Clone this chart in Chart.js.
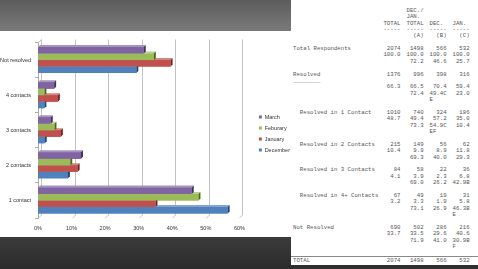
<!DOCTYPE html>
<html>
<head>
<meta charset="utf-8">
<script src="https://cdn.jsdelivr.net/npm/chart.js@4.4.0/dist/chart.umd.min.js"></script>
<style>
    html, body { margin: 0; padding: 0; }
    body { width: 478px; height: 269px; position: relative; overflow: hidden; background: #2f2f2f; }
    #topBand { position: absolute; left: 0; top: 0; width: 291px; height: 31px; background: linear-gradient(#5c5c5c, #7a7a7a); }
    #bottomBand { position: absolute; left: 0; top: 237px; width: 291px; height: 32px; background: linear-gradient(#3b3b3b, #2b2b2b); }
    #chartBox { position: absolute; left: 0; top: 31px; width: 300px; height: 206px; background: #fff; }
    #panel { position: absolute; left: 291px; top: 0; width: 187px; height: 265px; background: #fff; z-index: 2;
             font-family: 'Liberation Mono', 'DejaVu Sans Mono', monospace; font-size: 5.7px; color: #555; }
    .row { position: absolute; left: 0; width: 187px; height: 6.4px; line-height: 6.4px; white-space: pre; }
    .stub { position: absolute; left: 2px; top: 0; }
    .cell { position: absolute; top: 0; width: 24px; text-align: right; }
    #rule { position: absolute; left: 0; top: 256px; width: 187px; height: 0; border-top: 1px solid #888; }
</style>
</head>
<body>
<div id="topBand"></div>
<div id="chartBox"><canvas id="chart" width="300" height="206"></canvas></div>
<div id="bottomBand"></div>
<div id="panel"><div id="rule"></div></div>
<script>
(function () {
    'use strict';

    // chart data, rows top to bottom
    const categories = ['Not resolved', '4 contacts', '3 contacts', '2 contacts', '1 contact'];
    const seriesNames = ['March', 'Feburary', 'January', 'December'];
    const march = [31.5, 4.8, 3.8, 12.8, 45.8];
    const february = [34.5, 1.9, 4.9, 9.6, 47.8];
    const january = [39.5, 5.9, 6.8, 11.8, 35.0];
    const december = [29.3, 1.9, 2.0, 8.9, 56.5];
    const seriesColors = ['#8064A2', '#9BBB59', '#C0504D', '#4F81BD'];
    const xMax = 60;
    const xStep = 10;

    // crosstab text on the right
    const tableLines = [
        ['', '', 'DEC./', '', ''],
        ['', '', 'JAN. ', '', ''],
        ['', 'TOTAL', 'TOTAL', 'DEC. ', 'JAN. '],
        ['', '-----', '-----', '-----', '-----'],
        ['', '', '(A)', '(B)', '(C)'],
        [''],
        ['Total Respondents', '2074', '1498', '566', '532'],
        ['', '100.0', '100.0', '100.0', '100.0'],
        ['', '', '72.2', '46.6', '25.7'],
        [''],
        ['Resolved', '1376', '996', '398', '316'],
        ['________'],
        ['', '66.3', '66.5', '70.4', '59.4'],
        ['', '', '72.4', '49.4C', '23.0'],
        ['', '', '', 'E    ', ''],
        [''],
        ['  Resolved in 1 Contact', '1010', '740', '324', '186'],
        ['', '48.7', '49.4', '57.2', '35.0'],
        ['', '', '73.3', '54.9C', '10.4'],
        ['', '', '', 'EF   ', ''],
        [''],
        ['  Resolved in 2 Contacts', '215', '149', '56', '62'],
        ['', '10.4', '9.9', '8.9', '11.8'],
        ['', '', '69.3', '40.0', '29.3'],
        [''],
        ['  Resolved in 3 Contacts', '84', '58', '22', '36'],
        ['', '4.1', '3.9', '2.3', '6.8'],
        ['', '', '69.0', '26.2', '42.9B'],
        [''],
        ['  Resolved in 4+ Contacts', '67', '49', '19', '31'],
        ['', '3.2', '3.3', '1.9', '5.8'],
        ['', '', '73.1', '26.9', '46.3B'],
        ['', '', '', '', 'E    '],
        [''],
        ['Not Resolved', '690', '502', '286', '216'],
        ['', '33.7', '33.5', '29.6', '40.6'],
        ['', '', '71.9', '41.0', '30.9B'],
        ['', '', '', '', 'F    ']
    ];
    const totalLine = ['TOTAL', '2074', '1498', '566', '532'];
    const columnRight = [109.5, 132.6, 155.6, 178.6];

    const font = "'Liberation Sans', Arial, sans-serif";
    const depth = 3;
    const barDepth = 2;

    function addRow(panel, row, top) {
        const div = document.createElement('div');
        div.className = 'row';
        div.style.top = top + 'px';

        const stub = document.createElement('span');
        stub.className = 'stub';
        stub.textContent = row[0] || '';
        div.appendChild(stub);

        for (let i = 1; i < row.length; i++) {
            if (!row[i]) {
                continue;
            }
            const cell = document.createElement('span');
            cell.className = 'cell';
            cell.style.left = (columnRight[i - 1] - 24) + 'px';
            cell.textContent = row[i].length === 5 ? row[i] : row[i].padStart(5, ' ');
            div.appendChild(cell);
        }
        panel.appendChild(div);
    }

    function renderTable() {
        const panel = document.getElementById('panel');
        const step = 6.38;
        const firstTop = 49.3 - 6 * step - 3.2;
        tableLines.forEach(function (row, i) {
            addRow(panel, row, firstTop + i * step);
        });
        addRow(panel, totalLine, 258);
    }

    function shade(hex, factor) {
        const n = parseInt(hex.slice(1), 16);
        const ch = [(n >> 16) & 255, (n >> 8) & 255, n & 255].map(function (c) {
            return Math.max(0, Math.min(255, Math.round(factor > 1 ? c + (255 - c) * (factor - 1) : c * factor)));
        });
        return 'rgb(' + ch.join(',') + ')';
    }

    function polygon(ctx, pts) {
        ctx.beginPath();
        ctx.moveTo(pts[0][0], pts[0][1]);
        for (let i = 1; i < pts.length; i++) {
            ctx.lineTo(pts[i][0], pts[i][1]);
        }
        ctx.closePath();
        ctx.fill();
    }

    // back wall gridlines with floor slants, then 3d faces on the bars
    const wallPlugin = {
        id: 'wall3d',
        beforeDatasetsDraw: function (chart) {
            const ctx = chart.ctx;
            const area = chart.chartArea;
            const xs = chart.scales.x;
            ctx.save();
            ctx.strokeStyle = '#c2c2c2';
            ctx.lineWidth = 1;
            xs.ticks.forEach(function (tick) {
                const px = Math.round(xs.getPixelForValue(tick.value)) + 0.5;
                ctx.beginPath();
                ctx.moveTo(px + depth, area.top - depth);
                ctx.lineTo(px + depth, area.bottom - depth);
                ctx.lineTo(px, area.bottom);
                ctx.stroke();
            });
            ctx.beginPath();
            ctx.moveTo(area.left + 0.5, area.top);
            ctx.lineTo(area.left + 0.5 + depth, area.top - depth);
            ctx.stroke();
            ctx.restore();
        },
        afterDatasetsDraw: function (chart) {
            const ctx = chart.ctx;
            const metas = chart.getSortedVisibleDatasetMetas();
            ctx.save();
            for (let i = metas.length - 1; i >= 0; i--) {
                const meta = metas[i];
                const color = chart.data.datasets[meta.index].backgroundColor;
                meta.data.forEach(function (bar) {
                    const p = bar.getProps(['x', 'y', 'base', 'height'], true);
                    const top = p.y - p.height / 2;
                    const bottom = p.y + p.height / 2;
                    const d = barDepth;
                    ctx.fillStyle = shade(color, 1.3);
                    polygon(ctx, [[p.base, top], [p.base + d, top - d], [p.x + d, top - d], [p.x, top]]);
                    ctx.fillStyle = shade(color, 0.5);
                    polygon(ctx, [[p.x, top], [p.x + d, top - d], [p.x + d, bottom - d], [p.x, bottom]]);
                    ctx.fillStyle = color;
                    ctx.fillRect(p.base, top, p.x - p.base, p.height);
                });
            }
            ctx.restore();
        }
    };

    function buildChart() {
        const values = [march, february, january, december];
        const datasets = seriesNames.map(function (name, i) {
            return {
                label: name,
                data: values[i],
                backgroundColor: seriesColors[i],
                borderWidth: 0,
                categoryPercentage: 0.74,
                barPercentage: 1
            };
        });

        new Chart(document.getElementById('chart'), {
            type: 'bar',
            data: { labels: categories, datasets: datasets },
            options: {
                indexAxis: 'y',
                responsive: false,
                animation: false,
                devicePixelRatio: 1,
                layout: { padding: { top: 11.5, bottom: 0, left: 0, right: 0 } },
                plugins: {
                    tooltip: { enabled: false },
                    legend: {
                        position: 'right',
                        fullSize: false,
                        title: { display: true, text: '', padding: 0, font: { size: 5.4 } },
                        labels: {
                            boxWidth: 3,
                            boxHeight: 3,
                            padding: 5.5,
                            color: '#333',
                            font: { family: font, size: 5.5 }
                        }
                    }
                },
                scales: {
                    x: {
                        min: 0,
                        max: xMax,
                        afterFit: function (s) { s.height = 19; },
                        grid: { display: false, drawTicks: false },
                        border: { display: false },
                        ticks: {
                            stepSize: xStep,
                            padding: 7,
                            maxRotation: 0,
                            color: '#333',
                            font: { family: font, size: 5.5 },
                            callback: function (v) { return v + '%'; }
                        }
                    },
                    y: {
                        afterFit: function (s) { s.width = 38; },
                        grid: { offset: true, drawOnChartArea: false, tickLength: 3, color: '#aaa' },
                        border: { color: '#aaa' },
                        ticks: { padding: 4, color: '#333', font: { family: font, size: 5.5 } }
                    },
                    gap: {
                        type: 'linear',
                        axis: 'y',
                        position: 'right',
                        afterFit: function (s) { s.width = 14; },
                        grid: { display: false },
                        border: { display: false },
                        ticks: { display: false }
                    }
                }
            },
            plugins: [wallPlugin]
        });
    }

    renderTable();
    buildChart();
})();
</script>
</body>
</html>
